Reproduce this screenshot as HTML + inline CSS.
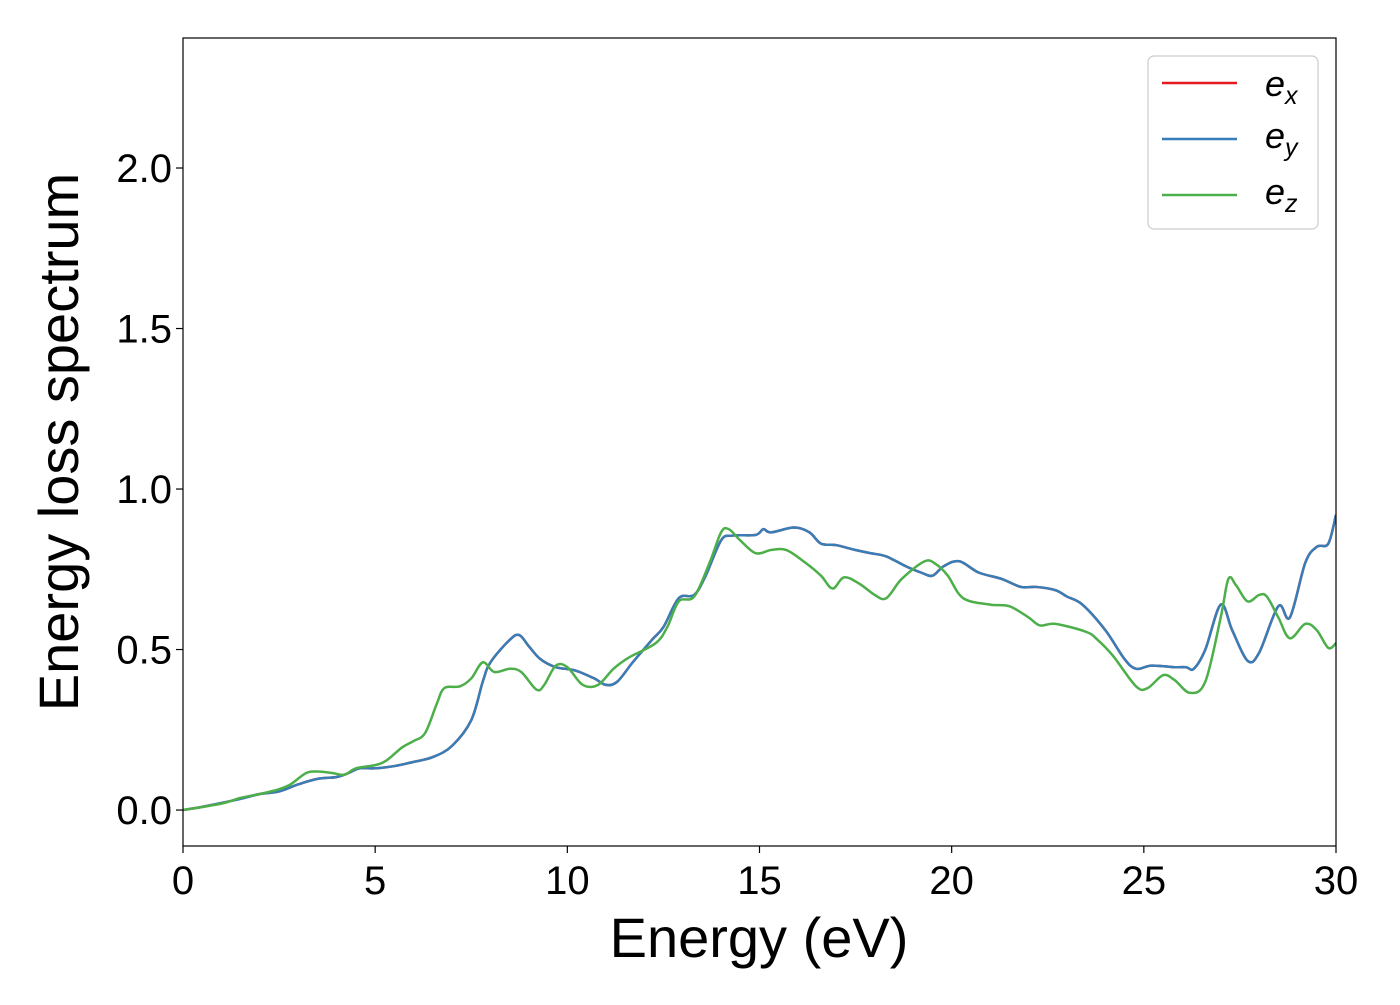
<!DOCTYPE html>
<html><head><meta charset="utf-8"><style>
body{margin:0;background:#fff;font-family:"Liberation Sans","DejaVu Sans",sans-serif}
</style></head><body>
<svg id="chart" width="1400" height="1000" xmlns="http://www.w3.org/2000/svg" font-family="Liberation Sans, DejaVu Sans, sans-serif">
<g id="plot"></g>
<g id="axes"></g>
<g id="legend">
<rect x="1148" y="56" width="170" height="173" rx="6" fill="#fff" stroke="#ccc" stroke-width="1.2"/>
<g><line x1="1162" y1="83" x2="1237" y2="83" stroke="#e41a1c" stroke-width="2.5"/><text x="1265" y="96" font-size="36" font-style="italic">e<tspan font-size="25" dy="8">x</tspan></text></g>
<g><line x1="1162" y1="139" x2="1237" y2="139" stroke="#377eb8" stroke-width="2.5"/><text x="1265" y="148" font-size="36" font-style="italic">e<tspan font-size="25" dy="8">y</tspan></text></g>
<g><line x1="1162" y1="195" x2="1237" y2="195" stroke="#4daf4a" stroke-width="2.5"/><text x="1265" y="204" font-size="36" font-style="italic">e<tspan font-size="25" dy="8">z</tspan></text></g>
</g>
</svg>
<script>
const xTicks=[0,5,10,15,20,25,30];
const yTicks=[0.0,0.5,1.0,1.5,2.0];
const yTickLabels=["0.0","0.5","1.0","1.5","2.0"];
const ex_E=[0,0.5,1,1.5,2,2.5,3,3.5,4,4.3,4.6,5,5.5,6,6.5,7,7.5,7.8,8,8.5,8.75,9,9.3,9.7,10.2,10.7,11,11.3,11.7,12.2,12.5,12.9,13.3,13.6,14,14.3,14.9,15.1,15.3,15.9,16.3,16.6,17,17.5,17.9,18.3,18.8,19.2,19.5,19.8,20.2,20.7,21.3,21.8,22.2,22.7,23,23.4,24,24.5,24.8,25.2,25.8,26.1,26.3,26.6,27,27.3,27.7,28,28.5,28.8,29.2,29.5,29.8,30];
const ex_V=[0,0.01,0.022,0.035,0.05,0.058,0.08,0.097,0.103,0.115,0.13,0.13,0.137,0.15,0.165,0.2,0.28,0.4,0.46,0.53,0.545,0.51,0.47,0.445,0.435,0.41,0.39,0.4,0.46,0.53,0.57,0.66,0.67,0.73,0.84,0.855,0.857,0.875,0.865,0.88,0.865,0.83,0.825,0.81,0.8,0.79,0.76,0.74,0.73,0.76,0.775,0.74,0.72,0.695,0.695,0.685,0.665,0.64,0.56,0.47,0.44,0.45,0.445,0.445,0.44,0.5,0.64,0.56,0.465,0.49,0.635,0.6,0.77,0.82,0.83,0.92];
const ey_V=ex_V.slice();
const ez_E=[0,1,1.5,2,2.5,2.8,3.2,3.5,3.9,4.2,4.5,5,5.3,5.7,6,6.3,6.6,6.8,7.2,7.5,7.8,8.1,8.5,8.8,9.2,9.4,9.7,10,10.4,10.8,11.2,11.6,12.3,12.6,12.9,13.3,13.7,14,14.2,14.5,14.9,15.3,15.7,16.2,16.6,16.9,17.2,17.6,18,18.3,18.7,19.3,19.6,19.9,20.3,21,21.5,22,22.3,22.7,23.5,23.8,24.2,24.8,25.1,25.5,25.8,26.2,26.6,27,27.2,27.4,27.7,28,28.2,28.5,28.8,29.2,29.5,29.8,30];
const ez_V=[0,0.02,0.038,0.05,0.065,0.08,0.115,0.12,0.115,0.11,0.13,0.14,0.155,0.195,0.215,0.24,0.33,0.38,0.385,0.41,0.46,0.43,0.44,0.43,0.375,0.39,0.45,0.445,0.39,0.39,0.44,0.475,0.52,0.57,0.65,0.665,0.77,0.865,0.875,0.84,0.8,0.81,0.81,0.77,0.73,0.69,0.725,0.705,0.67,0.66,0.72,0.775,0.765,0.73,0.66,0.64,0.635,0.6,0.575,0.58,0.555,0.53,0.48,0.385,0.38,0.42,0.405,0.365,0.4,0.6,0.72,0.7,0.65,0.67,0.665,0.6,0.535,0.58,0.56,0.505,0.52];
const L=183,R=1336,T=38,B=846,xMin=0,xMax=30,yMin=-0.112,yMax=2.405;
const sx=v=>L+(v-xMin)/(xMax-xMin)*(R-L);
const sy=v=>B-(v-yMin)/(yMax-yMin)*(B-T);
const NS="http://www.w3.org/2000/svg";
function mk(t,a,p){const e=document.createElementNS(NS,t);for(const k in a)e.setAttribute(k,a[k]);p.appendChild(e);return e;}
function path(E,V){const P=E.map((e,i)=>[sx(e),sy(V[i])]);let d="M"+P[0][0]+","+P[0][1];
for(let i=0;i<P.length-1;i++){const p0=P[Math.max(i-1,0)],p1=P[i],p2=P[i+1],p3=P[Math.min(i+2,P.length-1)];
d+=" C"+(p1[0]+(p2[0]-p0[0])/6)+","+(p1[1]+(p2[1]-p0[1])/6)+" "+(p2[0]-(p3[0]-p1[0])/6)+","+(p2[1]-(p3[1]-p1[1])/6)+" "+p2[0]+","+p2[1];}return d;}
const plot=document.getElementById('plot'),axes=document.getElementById('axes');
const cp=mk('clipPath',{id:'clip'},plot);mk('rect',{x:L,y:T,width:R-L,height:B-T},cp);
const s1=mk('path',{d:path(ex_E,ex_V),fill:'none',stroke:'#e41a1c','stroke-width':2.5,'clip-path':'url(#clip)'},plot);


const s2=mk('path',{d:path(ex_E,ey_V),fill:'none',stroke:'#377eb8','stroke-width':2.5,'clip-path':'url(#clip)'},plot);


const s3=mk('path',{d:path(ez_E,ez_V),fill:'none',stroke:'#4daf4a','stroke-width':2.5,'clip-path':'url(#clip)'},plot);


const fr=mk('rect',{x:L,y:T,width:R-L,height:B-T,fill:'none',stroke:'#000','stroke-width':1.2},axes);


xTicks.forEach(v=>{const g=mk('g',{},axes);


mk('line',{x1:sx(v),y1:B,x2:sx(v),y2:B+7,stroke:'#000','stroke-width':1.2},g);
const t=mk('text',{x:sx(v),y:B+48,'font-size':40,'text-anchor':'middle'},g);t.textContent=String(v);});
yTicks.forEach((v,i)=>{const g=mk('g',{},axes);


mk('line',{x1:L-7,y1:sy(v),x2:L,y2:sy(v),stroke:'#000','stroke-width':1.2},g);
const t=mk('text',{x:L-11,y:sy(v)+14,'font-size':40,'text-anchor':'end'},g);t.textContent=yTickLabels[i];});
const xl=mk('text',{x:759,y:957,'font-size':56,'text-anchor':'middle'},axes);xl.textContent="Energy (eV)";


const yl=mk('text',{x:0,y:0,'font-size':56,'text-anchor':'middle',transform:'translate(78,442) rotate(-90)'},axes);yl.textContent="Energy loss spectrum";


</script>
</body></html>
